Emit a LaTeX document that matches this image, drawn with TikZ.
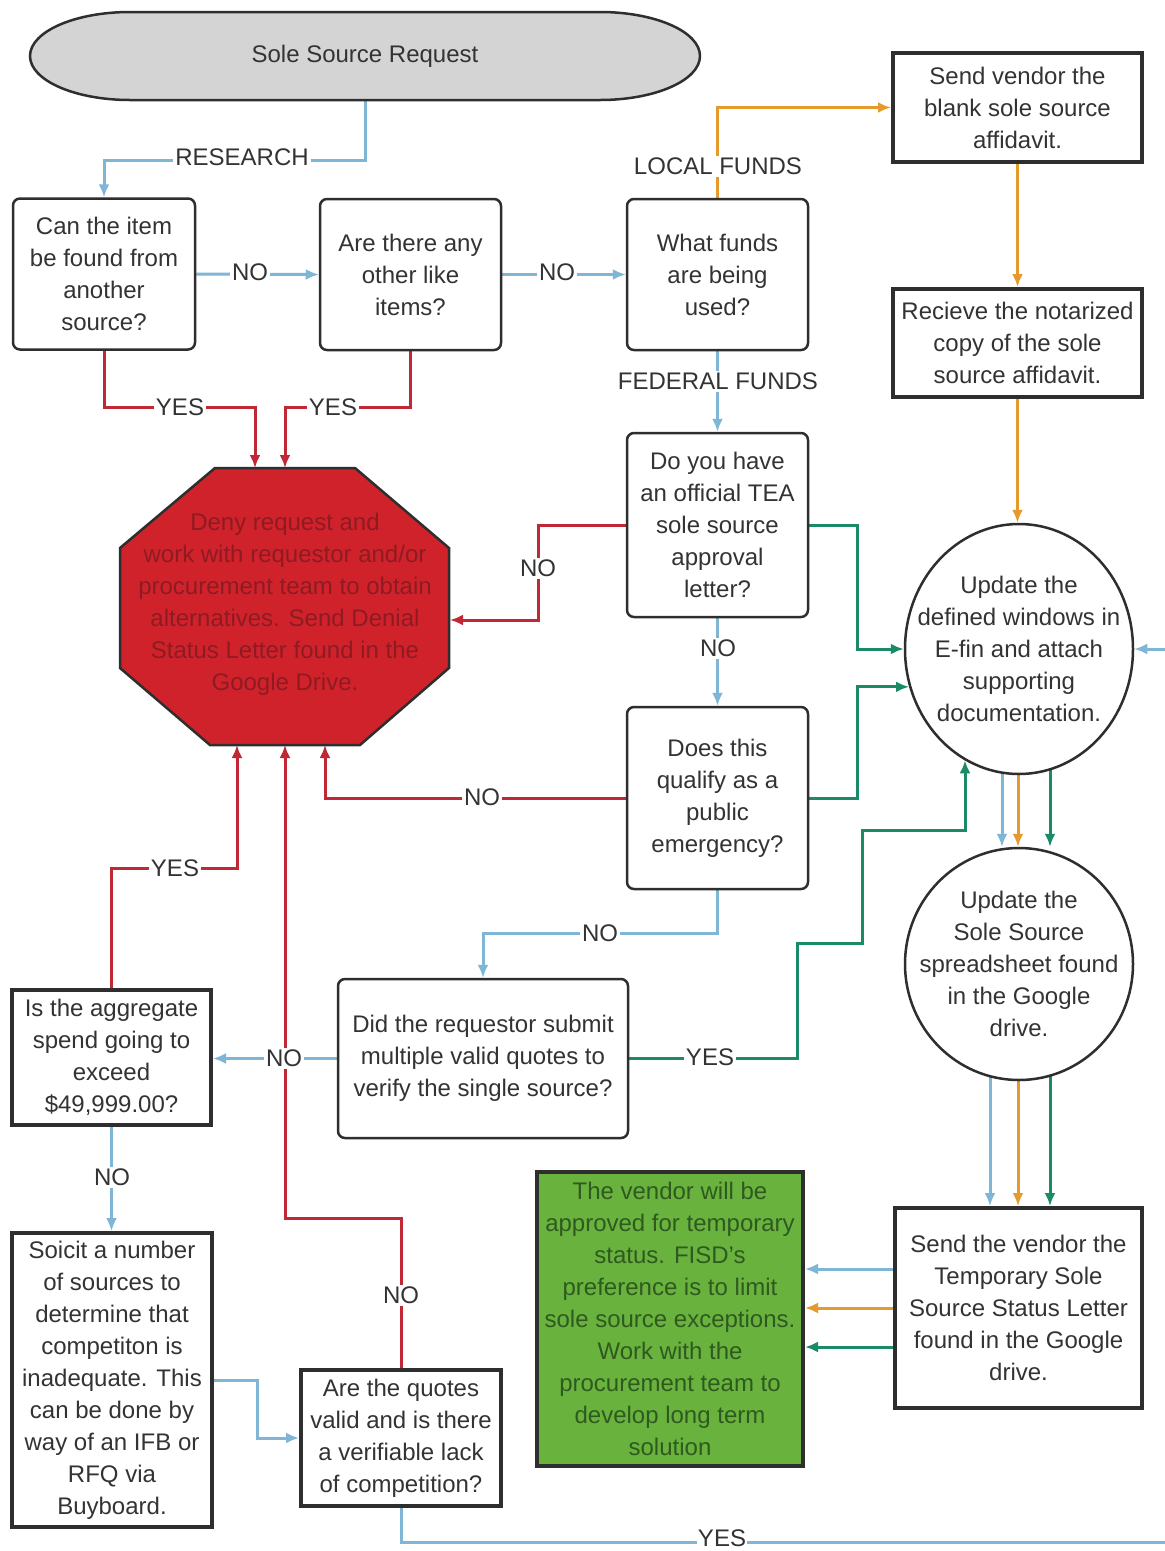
\documentclass[tikz,border=0pt]{standalone}
\usepackage{fontspec}
\setmainfont{Liberation Sans}
\usetikzlibrary{shapes.geometric,arrows.meta,backgrounds}
\definecolor{cblue}{HTML}{7FB5D5}
\definecolor{corange}{HTML}{E69A2E}
\definecolor{cred}{HTML}{C12836}
\definecolor{cgreen}{HTML}{1B8A69}
\definecolor{bline}{HTML}{2E2E2E}
\definecolor{txt}{HTML}{333333}
\definecolor{ored}{HTML}{D0222B}
\definecolor{odark}{HTML}{8E1B22}
\definecolor{ngreen}{HTML}{6AB23E}
\definecolor{ndark}{HTML}{2E5A1F}
\definecolor{capfill}{HTML}{D4D4D4}
\newcommand\fs{\fontsize{24}{32}\selectfont}
\tikzset{
  rbox/.style={draw=bline, line width=2.5pt, rounded corners=7pt, fill=white, align=center, font=\fs, text=txt, inner sep=0pt},
  sbox/.style={draw=bline, line width=4pt, fill=white, align=center, font=\fs, text=txt, inner sep=0pt},
  ebox/.style={ellipse, draw=bline, line width=2.5pt, fill=white, align=center, font=\fs, text=txt, inner xsep=-40pt, inner ysep=-30pt},
  lbl/.style={fill=white, inner sep=2pt, font=\fs, text=txt},
  conn/.style={line width=3pt, -{Latex[length=13pt,width=11pt]}},
  cb/.style={conn, draw=cblue},
  co/.style={conn, draw=corange},
  cr/.style={conn, draw=cred},
  cg/.style={conn, draw=cgreen},
}
\begin{document}
\begin{tikzpicture}[x=1pt,y=-1pt]
\useasboundingbox (0,0) rectangle (1165,1551);

% start capsule
\filldraw[fill=capfill, draw=bline, line width=2.5pt] (130,12) -- (600,12)
  arc[start angle=-90, end angle=90, x radius=100, y radius=44] -- (130,100)
  arc[start angle=90, end angle=270, x radius=100, y radius=44] -- cycle;
\node[font=\fs, text=txt, minimum width=670, minimum height=88, inner sep=0pt] (start) at (365,56) {Sole Source Request};

% octagon
\filldraw[fill=ored, draw=bline, line width=2.5pt] (215,468) -- (355,468) -- (449,548) -- (449,668) -- (360,745) -- (210,745) -- (120,668) -- (120,548) -- cycle;
\node[font=\fs, text=odark, align=center, minimum width=330, minimum height=277, inner sep=0pt] (oct) at (285,604)
  {Deny request and\\work with requestor and/or\\procurement team to obtain\\alternatives. Send Denial\\Status Letter found in the\\Google Drive.};

% boxes
\node[rbox, minimum width=182, minimum height=151] (A) at (104,274) {Can the item\\be found from\\another\\source?};
\node[rbox, minimum width=181, minimum height=151] (B) at (410.5,274.5) {Are there any\\other like\\items?};
\node[rbox, minimum width=181, minimum height=151] (C) at (717.5,274.5) {What funds\\are being\\used?};
\node[sbox, minimum width=249, minimum height=109] (D) at (1017.5,107.5) {Send vendor the\\blank sole source\\affidavit.};
\node[sbox, minimum width=249, minimum height=108] (E) at (1017.5,343) {Recieve the notarized\\copy of the sole\\source affidavit.};
\node[rbox, minimum width=181, minimum height=184] (F) at (717.5,525) {Do you have\\an official TEA\\sole source\\approval\\letter?};
\node[rbox, minimum width=181, minimum height=182] (G) at (717.5,798) {Does this\\qualify as a\\public\\emergency?};
\node[ebox, minimum width=228, minimum height=250] (H) at (1019,649) {Update the\\defined windows in\\E-fin and attach\\supporting\\documentation.};
\node[ebox, minimum width=228, minimum height=232] (I) at (1019,964) {Update the\\Sole Source\\spreadsheet found\\in the Google\\drive.};
\node[rbox, minimum width=290, minimum height=159] (J) at (483,1058.5) {Did the requestor submit\\multiple valid quotes to\\verify the single source?};
\node[sbox, minimum width=199, minimum height=135] (K) at (111.5,1057.5) {Is the aggregate\\spend going to\\exceed\\\$49,999.00?};
\node[sbox, minimum width=200, minimum height=294] (L) at (112,1380) {Soicit a number\\of sources to\\determine that\\competiton is\\inadequate. This\\can be done by\\way of an IFB or\\RFQ via\\Buyboard.};
\node[sbox, minimum width=200, minimum height=136] (M) at (401,1438) {Are the quotes\\valid and is there\\a verifiable lack\\of competition?};
\node[sbox, fill=ngreen, text=ndark, minimum width=266, minimum height=294] (N) at (670,1319) {The vendor will be\\approved for temporary\\status. FISD's\\preference is to limit\\sole source exceptions.\\Work with the\\procurement team to\\develop long term\\solution};
\node[sbox, minimum width=247, minimum height=200] (O) at (1018.5,1308) {Send the vendor the\\Temporary Sole\\Source Status Letter\\found in the Google\\drive.};

% helper coordinates
\coordinate (r1) at (365,160);
\coordinate (a1) at (104,407);
\coordinate (b1) at (410.5,407);
\coordinate (o1) at (255,468);
\coordinate (o2) at (285,468);
\coordinate (o3) at (450,620);
\coordinate (o4) at (325,745);
\coordinate (o5) at (237,745);
\coordinate (o6) at (285,745);
\coordinate (f1) at (538,525);
\coordinate (f2) at (857,525);
\coordinate (g2) at (857,798);
\coordinate (g3) at (717.5,933);
\coordinate (j1) at (797,943);
\coordinate (j2) at (862,943);
\coordinate (j3) at (862,830);
\coordinate (j4) at (965,830);
\coordinate (k1) at (111.5,868);
\coordinate (l1) at (257,1380);
\coordinate (m1) at (401,1218);
\coordinate (m2) at (401,1542);
\coordinate (m3) at (1185,1542);
\coordinate (x1) at (1002,0);
\coordinate (x2) at (1018,0);
\coordinate (x3) at (1050,0);
\coordinate (x4) at (990,0);
\coordinate (y1) at (0,1269);
\coordinate (y2) at (0,1308);
\coordinate (y3) at (0,1347);

\begin{pgfonlayer}{background}
\fill[white] (0,0) rectangle (1165,1551);
\draw[cb] (start.south) -- (r1) -| (A.north);
\draw[cb] (A.east) -- (B.west);
\draw[cb] (B.east) -- (C.west);
\draw[co] (C.north) |- (D.west);
\draw[cb] (C.south) -- (F.north);
\draw[co] (D.south) -- (E.north);
\draw[co] (E.south) -- (E.south |- H.north);
\draw[cr] (A.south) -- (a1) -| (o1);
\draw[cr] (B.south) -- (b1) -| (o2);
\draw[cr] (F.west) -- (f1) |- (o3);
\draw[cg] (F.east) -- (f2) |- (H.west);
\draw[cb] (F.south) -- (G.north);
\draw[cr] (G.west) -| (o4);
\draw[cg] (G.east) -- (g2) |- (H.199);
\draw[cb] (G.south) -- (g3) -| (J.north);
\draw[cg] (J.east) -| (j1) -- (j2) -- (j3) -- (j4) -- (j4 |- H.244);
\draw[cb] (J.west) -- (J.west -| K.east);
\draw[cr] (K.north) -- (k1) -| (o5);
\draw[cb] (K.south) -- (K.south |- L.north);
\draw[cb] (L.east) -- (l1) |- (M.west);
\draw[cr] (M.north) -- (m1) -| (o6);
\draw[cb] (M.south) -- (m2) -- (m3) |- (H.east);
\draw[cb] (x1 |- H.center) -- (x1 |- I.north);
\draw[co] (x2 |- H.center) -- (x2 |- I.north);
\draw[cg] (x3 |- H.center) -- (x3 |- I.north);
\draw[cb] (x4 |- I.center) -- (x4 |- O.north);
\draw[co] (x2 |- I.center) -- (x2 |- O.north);
\draw[cg] (x3 |- I.center) -- (x3 |- O.north);
\draw[cb] (O.west |- y1) -- (N.east |- y1);
\draw[co] (O.west |- y2) -- (N.east |- y2);
\draw[cg] (O.west |- y3) -- (N.east |- y3);
\end{pgfonlayer}

% labels
\node[lbl] (t1) at (242,157) {RESEARCH};
\node[lbl] (t2) at (250,272) {NO};
\node[lbl] (t3) at (557,272) {NO};
\node[lbl] (t4) at (718,166) {LOCAL FUNDS};
\node[lbl] (t5) at (718,381) {FEDERAL FUNDS};
\node[lbl] (t6) at (180,407) {YES};
\node[lbl] (t7) at (333,407) {YES};
\node[lbl] (t8) at (538,568) {NO};
\node[lbl] (t9) at (718,648) {NO};
\node[lbl] (t10) at (482,797) {NO};
\node[lbl] (t11) at (600,933) {NO};
\node[lbl] (t12) at (710,1057) {YES};
\node[lbl] (t13) at (284,1058) {NO};
\node[lbl] (t14) at (175,868) {YES};
\node[lbl] (t15) at (112,1177) {NO};
\node[lbl] (t16) at (401,1295) {NO};
\node[lbl, inner sep=1pt] (t17) at (722,1538) {YES};
\end{tikzpicture}
\end{document}
